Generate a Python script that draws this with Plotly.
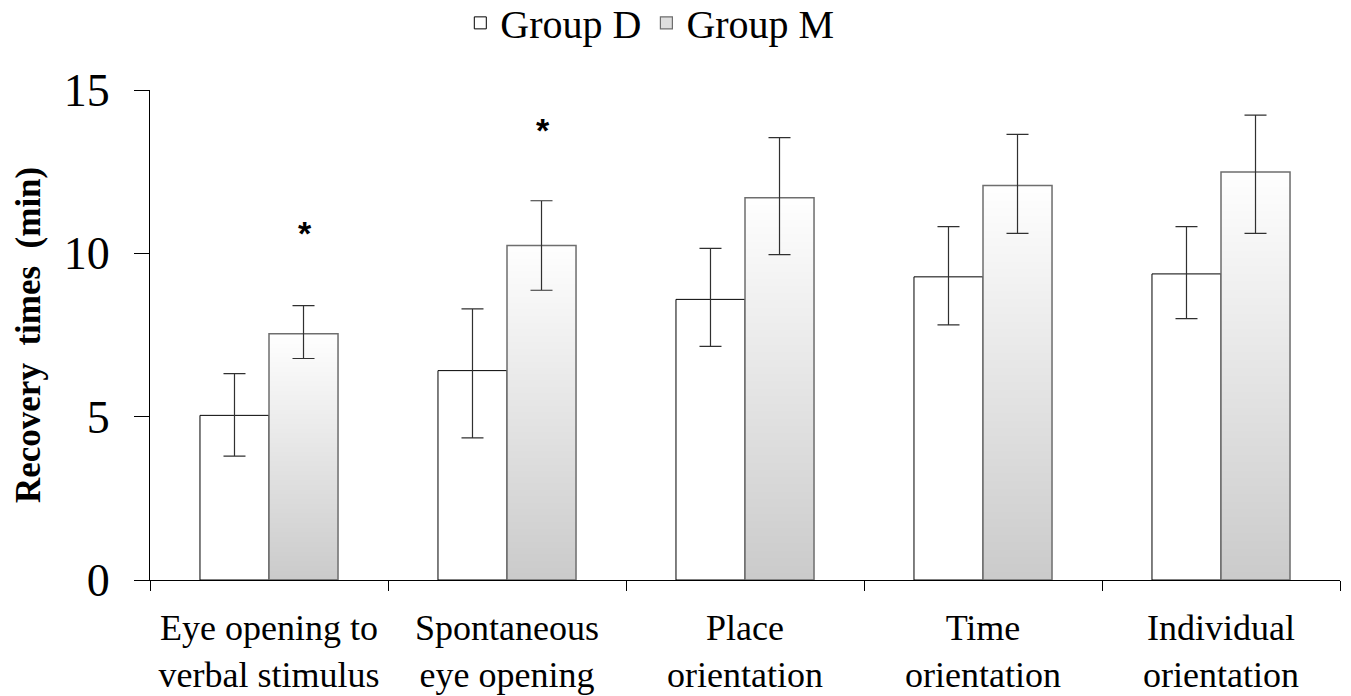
import plotly.graph_objects as go

categories = ["Eye opening to<br>verbal stimulus", "Spontaneous<br>eye opening",
              "Place<br>orientation", "Time<br>orientation", "Individual<br>orientation"]
group_d = [5.04, 6.41, 8.59, 9.28, 9.37]
group_d_err_plus = [1.28, 1.89, 1.56, 1.54, 1.45]
group_d_err_minus = [1.25, 2.06, 1.44, 1.47, 1.37]
group_m = [7.54, 10.24, 11.70, 12.08, 12.49]
group_m_err_plus = [0.86, 1.37, 1.84, 1.56, 1.74]
group_m_err_minus = [0.76, 1.37, 1.74, 1.47, 1.88]
star_labels = ["*", "*", "", "", ""]
star_y = [10.72, 13.87, None, None, None]
y_ticks = [0, 5, 10, 15]

SERIF = "Liberation Serif"
W = 0.29
N_GRAD = 52

fig = go.Figure()

# Group D bars
fig.add_trace(go.Bar(
    x=categories, y=group_d, name="Group D", width=W, offset=-W,
    marker=dict(color="white", line=dict(color="black", width=1)),
    error_y=dict(type="data", symmetric=False, array=group_d_err_plus,
                 arrayminus=group_d_err_minus, color="#303030", thickness=1.2, width=11),
    showlegend=True,
))

# Group M gradient fill: each layer starts higher and is lighter, drawn over the previous
for k in range(N_GRAD):
    t = k / (N_GRAD - 1)
    g = int(round(203 + (254 - 203) * t))
    fig.add_trace(go.Bar(
        x=categories, y=[v * (N_GRAD - k) / N_GRAD for v in group_m],
        base=[v * k / N_GRAD for v in group_m],
        width=W, offset=0,
        marker=dict(color=f"rgb({g},{g},{g})", line=dict(width=0)),
        showlegend=False, hoverinfo="skip",
    ))

# Group M outline + error bars
fig.add_trace(go.Bar(
    x=categories, y=group_m, width=W, offset=0,
    marker=dict(color="rgba(0,0,0,0)", line=dict(color="#6e6e6e", width=1.5)),
    error_y=dict(type="data", symmetric=False, array=group_m_err_plus,
                 arrayminus=group_m_err_minus, color="#303030", thickness=1.2, width=11),
    showlegend=False,
))

# legend swatch for Group M
fig.add_trace(go.Bar(
    x=[categories[0]], y=[0], name="Group M", width=W, offset=0,
    marker=dict(color="#dedede", line=dict(color="#6e6e6e", width=1.2)),
    showlegend=True, hoverinfo="skip",
))

for c, s, yv in zip(categories, star_labels, star_y):
    if s:
        fig.add_annotation(x=c, y=yv, xref="x", yref="y", text="<b>" + s + "</b>",
                           showarrow=False, xshift=36, yshift=-3,
                           font=dict(family="Liberation Sans", size=34, color="black"))

fig.add_annotation(
    x=-0.1025, y=0.5, xref="paper", yref="paper", text="<b>Recovery  times  (min)</b>",
    textangle=-90, showarrow=False, xanchor="center", yanchor="middle",
    font=dict(family=SERIF, size=35, color="black"))

fig.update_layout(
    width=1351, height=696,
    margin=dict(l=150, r=11, t=90, b=116, autoexpand=False),
    paper_bgcolor="white", plot_bgcolor="white",
    barmode="overlay",
    font=dict(family=SERIF, color="black"),
    legend=dict(orientation="h", x=0.42, xanchor="center", y=1.137, yanchor="middle",
                font=dict(family=SERIF, size=40, color="black"),
                bgcolor="rgba(0,0,0,0)", traceorder="normal", itemwidth=30),
    xaxis=dict(
        type="category", tickson="boundaries", ticks="outside", ticklen=10,
        tickcolor="black", tickwidth=1, showline=True, linecolor="black", linewidth=1,
        showgrid=False, zeroline=False, ticklabelstandoff=16,
        tickfont=dict(family=SERIF, size=36, color="black"),
        range=[-0.5, 4.5],
    ),
    yaxis=dict(
        range=[0, 15], tickvals=y_ticks, ticks="outside", ticklen=15, tickcolor="black",
        tickwidth=1, showline=True, linecolor="black", linewidth=1, showgrid=False,
        zeroline=False, ticklabelstandoff=15,
        tickfont=dict(family=SERIF, size=46, color="black"),
    ),
)

fig.write_html("out.html")
